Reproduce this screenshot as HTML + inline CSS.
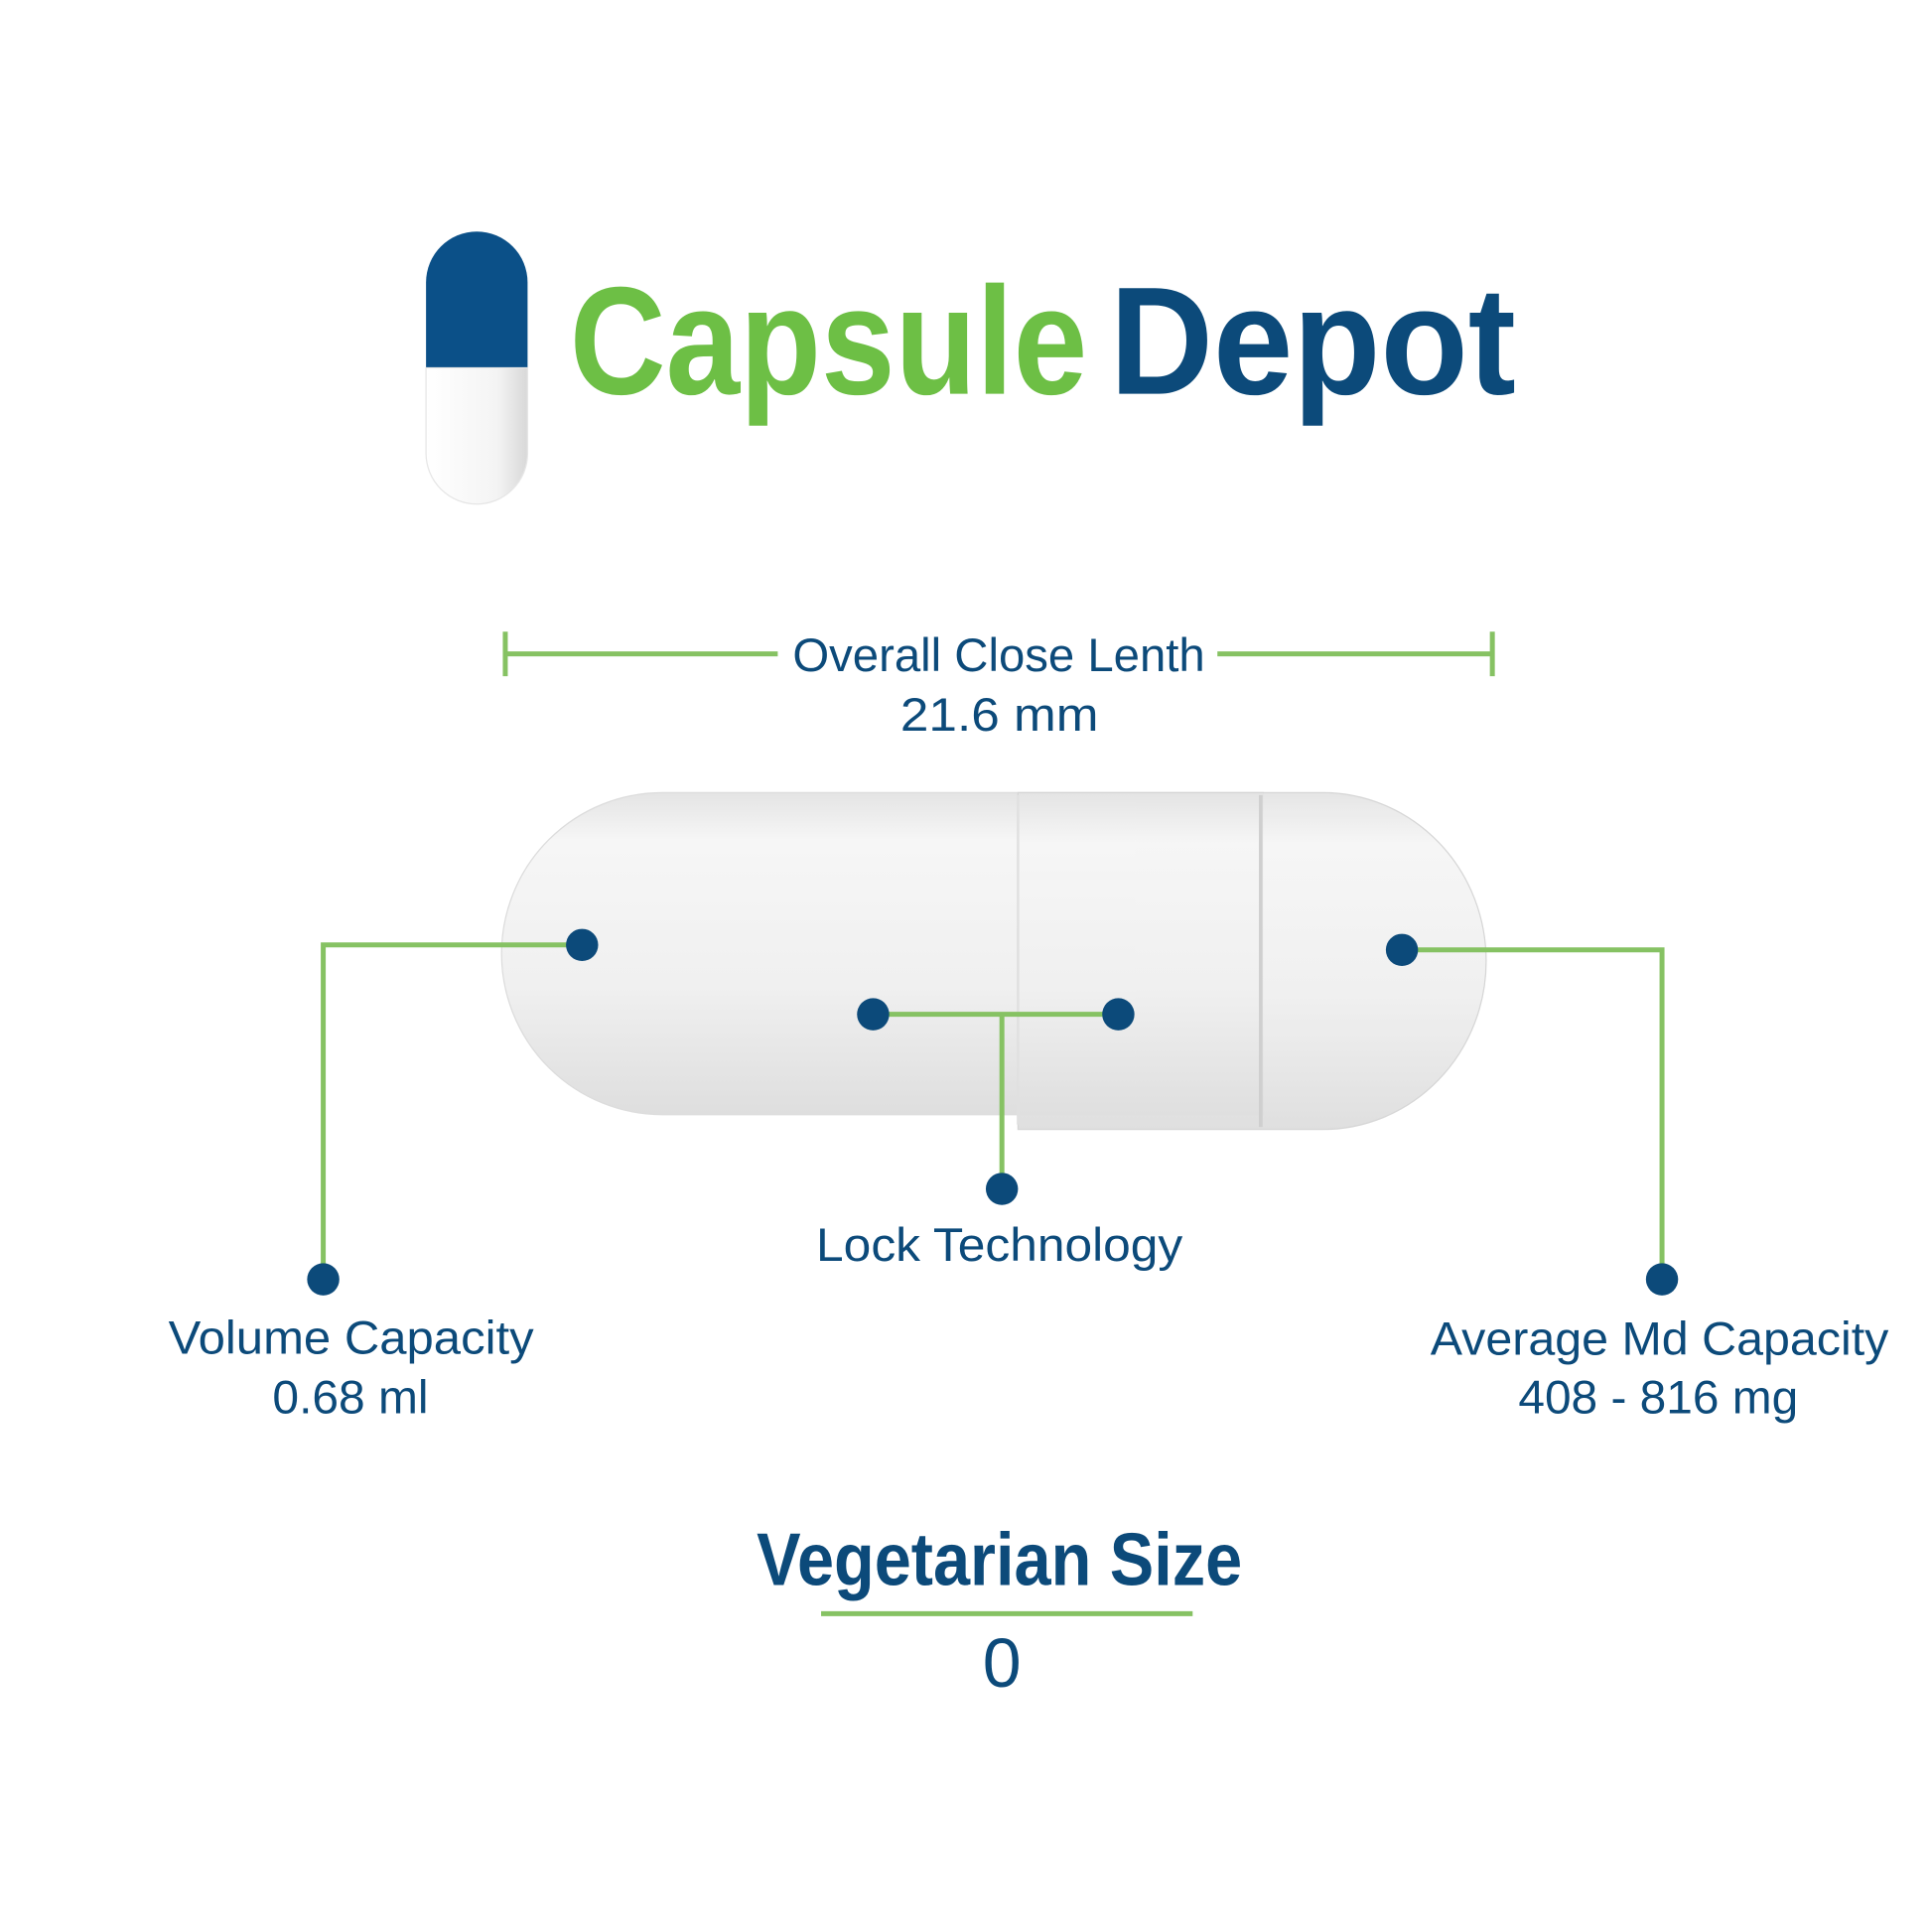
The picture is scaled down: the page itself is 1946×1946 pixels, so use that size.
<!DOCTYPE html>
<html><head><style>html,body{margin:0;padding:0;background:#fff}svg{display:block}</style></head>
<body>
<svg width="1946" height="1946" viewBox="0 0 1560 1560" xmlns="http://www.w3.org/2000/svg" font-family="'Liberation Sans',sans-serif">
<defs>
<linearGradient id="cg" x1="0" y1="0" x2="0" y2="1">
<stop offset="0" stop-color="#e4e4e4"/><stop offset="0.15" stop-color="#f6f6f6"/><stop offset="0.6" stop-color="#f0f0f0"/><stop offset="1" stop-color="#dedede"/></linearGradient>
<linearGradient id="wg" x1="0" y1="0" x2="1" y2="0">
<stop offset="0" stop-color="#fff"/><stop offset="0.7" stop-color="#f4f4f4"/><stop offset="1" stop-color="#d8d8d8"/></linearGradient>
</defs>
<!-- logo icon -->
<path d="M344 297 V228 A41 41 0 0 1 426 228 V297 Z" fill="#0b5088"/>
<path d="M344 297 H426 V366 A41 41 0 0 1 344 366 Z" fill="url(#wg)" stroke="#e6e6e6"/>
<text x="460" y="318" font-size="124" font-weight="bold" fill="#6dbf45" textLength="418" lengthAdjust="spacingAndGlyphs">Capsule</text>
<text x="896" y="318" font-size="124" font-weight="bold" fill="#0c4a7a" textLength="328" lengthAdjust="spacingAndGlyphs">Depot</text>
<!-- dimension -->
<g stroke="#86c263" stroke-width="4" fill="none">
<line x1="408" y1="510" x2="408" y2="546"/><line x1="1205" y1="510" x2="1205" y2="546"/>
<line x1="408" y1="528" x2="628" y2="528"/><line x1="983" y1="528" x2="1205" y2="528"/>
</g>
<g fill="#0c4a7a" font-size="38">
<text x="640" y="542" textLength="333" lengthAdjust="spacingAndGlyphs">Overall Close Lenth</text>
<text x="727" y="590" textLength="160" lengthAdjust="spacingAndGlyphs">21.6  mm</text>
</g>
<!-- capsule -->
<path d="M535 640 H1020 V900 H535 A130 130 0 0 1 535 640 Z" fill="url(#cg)" stroke="#dcdcdc"/>
<path d="M822 640 H1068 A132 136 0 0 1 1068 912 H822 Z" fill="url(#cg)" stroke="#d4d4d4" opacity="0.95"/>
<line x1="1018" y1="642" x2="1018" y2="910" stroke="#cfcfcf" stroke-width="3"/>
<line x1="822" y1="642" x2="822" y2="908" stroke="#e0e0e0" stroke-width="2"/>
<!-- connectors -->
<g stroke="#86c263" stroke-width="4" fill="none">
<polyline points="470,763 261,763 261,1033"/>
<polyline points="1132,767 1342,767 1342,1033"/>
<line x1="705" y1="819" x2="903" y2="819"/>
<line x1="809" y1="819" x2="809" y2="960"/>
</g>
<g fill="#0c4a7a">
<circle cx="470" cy="763" r="13"/><circle cx="1132" cy="767" r="13"/>
<circle cx="705" cy="819" r="13"/><circle cx="903" cy="819" r="13"/>
<circle cx="809" cy="960" r="13"/><circle cx="261" cy="1033" r="13"/><circle cx="1342" cy="1033" r="13"/>
</g>
<g fill="#0c4a7a" font-size="38">
<text x="659" y="1018" textLength="296" lengthAdjust="spacingAndGlyphs">Lock Technology</text>
<text x="136" y="1093" textLength="295" lengthAdjust="spacingAndGlyphs">Volume Capacity</text>
<text x="220" y="1141" textLength="126" lengthAdjust="spacingAndGlyphs">0.68 ml</text>
<text x="1155" y="1094" textLength="370" lengthAdjust="spacingAndGlyphs">Average Md Capacity</text>
<text x="1226" y="1141" textLength="226" lengthAdjust="spacingAndGlyphs">408 - 816 mg</text>
</g>
<text x="611" y="1280" font-size="60" font-weight="bold" fill="#0c4a7a" textLength="392" lengthAdjust="spacingAndGlyphs">Vegetarian Size</text>
<line x1="663" y1="1303" x2="963" y2="1303" stroke="#86c263" stroke-width="4"/>
<text x="809" y="1362" font-size="56" fill="#0c4a7a" text-anchor="middle">0</text>
</svg>
</body></html>
